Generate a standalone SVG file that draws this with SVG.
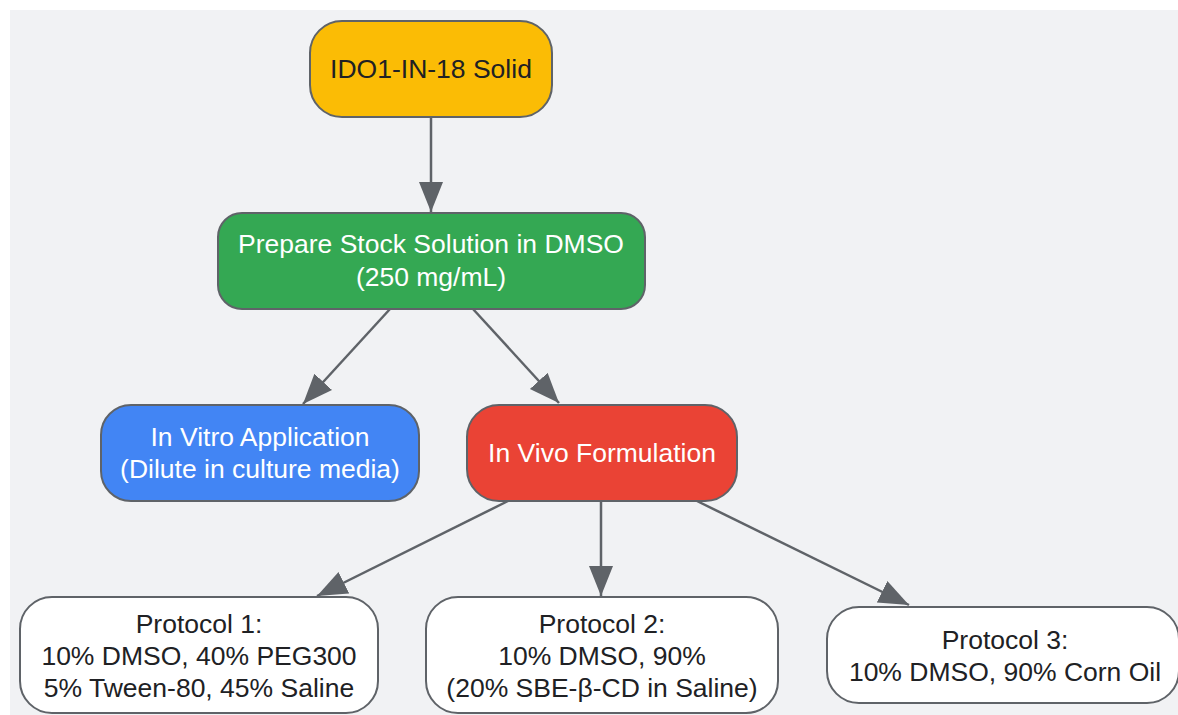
<svg xmlns="http://www.w3.org/2000/svg" width="1178" height="715" viewBox="0 0 1178 715">
<defs>
<marker id="ah" markerWidth="31" markerHeight="25" refX="30" refY="12" orient="auto" markerUnits="userSpaceOnUse">
<path d="M0,0 L30,12 L0,24 Z" fill="#5f6368"/>
</marker>
<style>
.n{stroke:#5f6368;stroke-width:2}
.t{font-family:"Liberation Sans",Arial,sans-serif;font-size:26.5px;text-anchor:middle}
.d{fill:#202124}
.w{fill:#ffffff}
.e{stroke:#5f6368;stroke-width:2.5;fill:none;marker-end:url(#ah)}
</style>
</defs>
<rect x="0" y="0" width="1178" height="715" fill="#ffffff"/>
<rect x="10" y="10" width="1168" height="705" fill="#f1f2f4"/>
<g id="connectors">
<line class="e" x1="431" y1="117" x2="431" y2="212"/>
<line class="e" x1="390" y1="309" x2="303" y2="404"/>
<line class="e" x1="473" y1="309" x2="559" y2="403"/>
<line class="e" x1="508" y1="501" x2="317" y2="596"/>
<line class="e" x1="601" y1="501" x2="601" y2="596"/>
<line class="e" x1="697" y1="501" x2="909" y2="605"/>
</g>
<g id="solid">
<rect class="n" x="310" y="21" width="242" height="96" rx="32" fill="#fbbc05"/>
<text class="t d" x="431" y="78">IDO1-IN-18 Solid</text>
</g>
<g id="stock">
<rect class="n" x="218" y="213" width="427" height="96" rx="24" fill="#34a853"/>
<text class="t w" x="431" y="253">Prepare Stock Solution in DMSO</text>
<text class="t w" x="431" y="285.5">(250 mg/mL)</text>
</g>
<g id="invitro">
<rect class="n" x="101" y="405" width="318" height="96" rx="30" fill="#4285f4"/>
<text class="t w" x="260" y="446">In Vitro Application</text>
<text class="t w" x="260" y="478">(Dilute in culture media)</text>
</g>
<g id="invivo">
<rect class="n" x="467" y="405" width="270" height="96" rx="32" fill="#ea4335"/>
<text class="t w" x="602" y="462">In Vivo Formulation</text>
</g>
<g id="p1">
<rect class="n" x="20" y="597" width="358" height="116" rx="32" fill="#ffffff"/>
<text class="t d" x="199" y="633">Protocol 1:</text>
<text class="t d" x="199" y="665">10% DMSO, 40% PEG300</text>
<text class="t d" x="199" y="697">5% Tween-80, 45% Saline</text>
</g>
<g id="p2">
<rect class="n" x="426" y="597" width="352" height="116" rx="32" fill="#ffffff"/>
<text class="t d" x="602" y="633">Protocol 2:</text>
<text class="t d" x="602" y="665">10% DMSO, 90%</text>
<text class="t d" x="602" y="697">(20% SBE-β-CD in Saline)</text>
</g>
<g id="p3">
<rect class="n" x="827" y="607" width="352" height="96" rx="32" fill="#ffffff"/>
<text class="t d" x="1005" y="649">Protocol 3:</text>
<text class="t d" x="1005" y="681">10% DMSO, 90% Corn Oil</text>
</g>
</svg>
